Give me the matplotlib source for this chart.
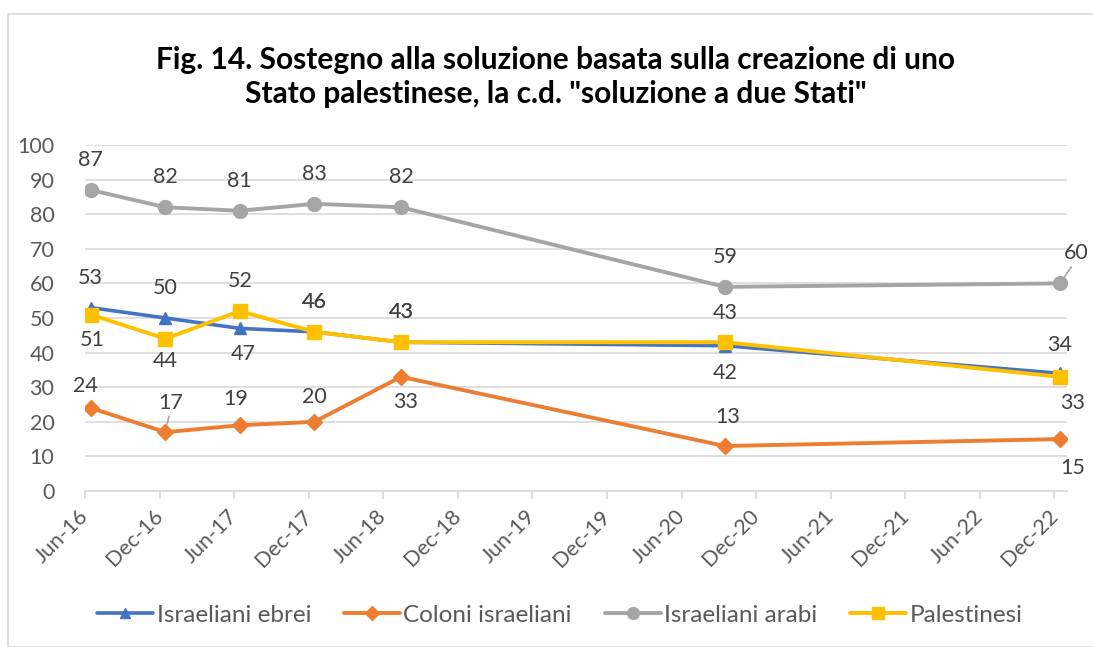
import matplotlib
matplotlib.use("Agg")
import matplotlib.pyplot as plt
import matplotlib.dates as mdates
import matplotlib.transforms as mtransforms
from matplotlib.patches import Rectangle
import datetime as dt

plt.rcParams['font.family'] = ['Lato', 'DejaVu Sans']

# ---- data ----
dates = ["2016-06-15", "2016-12-15", "2017-06-15", "2017-12-15",
         "2018-07-15", "2020-09-15", "2022-12-15"]
ebrei = [53, 50, 47, 46, 43, 42, 34]
coloni = [24, 17, 19, 20, 33, 13, 15]
arabi = [87, 82, 81, 83, 82, 59, 60]
palest = [51, 44, 52, 46, 43, 43, 33]
series_names = ["Israeliani ebrei", "Coloni israeliani", "Israeliani arabi", "Palestinesi"]
tick_dates = ["2016-06-01", "2016-12-01", "2017-06-01", "2017-12-01", "2018-06-01",
              "2018-12-01", "2019-06-01", "2019-12-01", "2020-06-01", "2020-12-01",
              "2021-06-01", "2021-12-01", "2022-06-01", "2022-12-01"]
tick_labels = ["Jun-16", "Dec-16", "Jun-17", "Dec-17", "Jun-18", "Dec-18", "Jun-19",
               "Dec-19", "Jun-20", "Dec-20", "Jun-21", "Dec-21", "Jun-22", "Dec-22"]
title = 'Fig. 14. Sostegno alla soluzione basata sulla creazione di uno\nStato palestinese, la c.d. "soluzione a due Stati"'

# label offsets (pixels) per series
off_ebrei = [(0, 30), (0, 30), (3, -26), (0, 30), (0, 30), (0, -27), (0, 28)]
off_coloni = [(-5, 22), (5, 29), (-4, 26), (0, 25), (5, -25), (3, 29), (13, -29)]
off_arabi = [(0, 30), (0, 30), (0, 30), (0, 30), (0, 30), (0, 30), (16, 30)]
off_palest = [(2, -25), (0, -22), (0, 30), (0, 30), (0, 30), (0, 29), (13, -26)]
leader = {("coloni", 1), ("arabi", 6)}

W, H = 1093, 647
fig = plt.figure(figsize=(W / 100, H / 100), dpi=100)
fig.patch.set_facecolor('white')

# chart border
fig.add_artist(Rectangle((8 / W, 0), 1.2, 1 - 14 / H, transform=fig.transFigure,
                         fill=False, edgecolor='#D9D9D9', linewidth=1.2))

left, right = 85 / W, 1067 / W
bottom, top = 1 - 491 / H, 1 - 145 / H
ax = fig.add_axes([left, bottom, right - left, top - bottom])

x = [dt.datetime.strptime(d, "%Y-%m-%d") for d in dates]
tx = [dt.datetime.strptime(d, "%Y-%m-%d") for d in tick_dates]

colors = ['#4472C4', '#ED7D31', '#A5A5A5', '#FFC000']
markers = ['^', 'D', 'o', 's']
msizes = [9, 8, 10, 10]
lws = [2.6, 2.8, 2.8, 2.8]
data = [ebrei, coloni, arabi, palest]
offs = [off_ebrei, off_coloni, off_arabi, off_palest]
keys = ["ebrei", "coloni", "arabi", "palest"]

FS = 15.5

handles = []
for vals, c, m, ms, lw, name in zip(data, colors, markers, msizes, lws, series_names):
    h, = ax.plot(x, vals, color=c, marker=m, markersize=ms, linewidth=lw,
                 markeredgecolor=c, label=name, zorder=3, solid_capstyle='round')
    handles.append(h)

for vals, off, key in zip(data, offs, keys):
    for i, (xi, v) in enumerate(zip(x, vals)):
        dx, dy = off[i]
        ax.annotate(str(v), (xi, v), xytext=(dx, dy), textcoords='offset pixels',
                    ha='center', va='center', fontsize=FS, color='#404040', zorder=5)
        if (key, i) in leader:
            ax.annotate("", (xi, v), xytext=(dx * 0.7, dy * 0.55),
                        textcoords='offset pixels',
                        arrowprops=dict(arrowstyle='-', color='#A5A5A5', lw=1.2,
                                        shrinkA=0, shrinkB=6), zorder=4)

ax.set_ylim(0, 100)
ax.set_yticks(range(0, 101, 10))
ax.set_xlim(dt.datetime(2016, 6, 1), dt.datetime(2023, 1, 1))
ax.set_xticks(tx)
ax.set_xticklabels(tick_labels, rotation=45, ha='right', va='center',
                   rotation_mode='anchor')
offset = mtransforms.ScaledTranslation(26 / 100, 0, fig.dpi_scale_trans)
for lab in ax.get_xticklabels():
    lab.set_transform(lab.get_transform() + offset)

ax.grid(axis='y', color='#D9D9D9', linewidth=1.2)
ax.set_axisbelow(True)
for s in ['top', 'right', 'left']:
    ax.spines[s].set_visible(False)
ax.spines['bottom'].set_color('#D9D9D9')
ax.spines['bottom'].set_linewidth(1.2)
ax.tick_params(axis='y', length=0, pad=22, labelsize=FS, labelcolor='#595959')
ax.tick_params(axis='x', length=6, width=1.2, color='#D9D9D9', pad=10,
               labelsize=FS, labelcolor='#595959', direction='out')

fig.text(556 / W, 1 - 77 / H, title, ha='center', va='center', fontsize=21.5,
         fontweight='bold', color='black', linespacing=1.25)

leg = fig.legend(handles=handles, loc='center', bbox_to_anchor=(560 / W, 1 - 615 / H),
                 ncol=4, frameon=False, fontsize=17.5, handlelength=2.3,
                 columnspacing=1.35, handletextpad=0.15, labelcolor='#595959',
                 markerscale=0.85)

fig.savefig("out.png", dpi=100, facecolor='white')
